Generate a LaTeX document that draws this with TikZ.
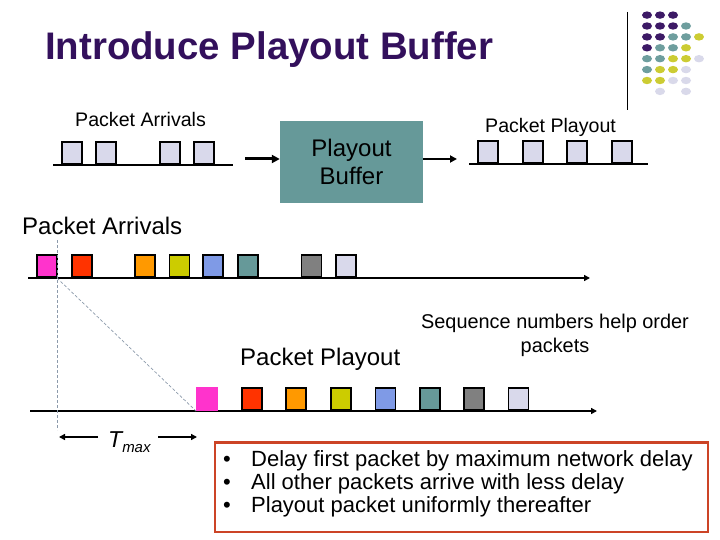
\documentclass[tikz,border=0pt]{standalone}
\usepackage{fontspec}
\setmainfont{Liberation Sans}
\usetikzlibrary{arrows.meta,shapes.geometric}
\definecolor{titlepurple}{HTML}{33105C}
\definecolor{dotP}{HTML}{3D1A66}
\definecolor{dotT}{HTML}{6E9E9E}
\definecolor{dotY}{HTML}{CCCC33}
\definecolor{dotL}{HTML}{D9D9EA}
\definecolor{cpink}{HTML}{FF33CC}
\definecolor{cred}{HTML}{FF3300}
\definecolor{corange}{HTML}{FF9900}
\definecolor{colive}{HTML}{CCCC00}
\definecolor{cblue}{HTML}{7F9AE6}
\definecolor{cteal}{HTML}{669999}
\definecolor{cgray}{HTML}{808080}
\definecolor{clav}{HTML}{D9D9EB}
\definecolor{boxred}{HTML}{CC4426}
\definecolor{dashc}{HTML}{8C9AAB}
\begin{document}
\begin{tikzpicture}[x=1pt,y=-1pt,
  pkt/.style={draw=black, line width=1.5pt, minimum width=20pt, minimum height=22pt, inner sep=0pt, anchor=south west},
  dot/.style={ellipse, minimum width=10pt, minimum height=7.4pt, inner sep=0pt},
  tline/.style={line width=2pt, black},
  fat/.style={line width=3pt, -{Triangle[length=8pt,width=8pt]}},
  tarrow/.style={line width=2pt, -{Triangle[length=6pt,width=6pt]}},
  guide/.style={dashc, line width=0.7pt, dash pattern=on 3pt off 2pt},
  lbl/.style={inner sep=0pt, anchor=base west}
]
\useasboundingbox (0,0) rectangle (720,540);

% title
\node[lbl, text=titlepurple, font=\fontsize{38.4}{40}\selectfont\bfseries] (title) at (45,60) {Introduce Playout Buffer};

% decoration
\draw[line width=1pt] (627,12) -- (627,110);
\foreach \c/\r/\col in {1/1/dotP,2/1/dotP,3/1/dotP,
  1/2/dotP,2/2/dotP,3/2/dotP,4/2/dotT,
  1/3/dotP,2/3/dotP,3/3/dotT,4/3/dotT,5/3/dotY,
  1/4/dotP,2/4/dotT,3/4/dotT,4/4/dotY,
  1/5/dotT,2/5/dotT,3/5/dotY,4/5/dotY,5/5/dotL,
  1/6/dotT,2/6/dotY,3/6/dotY,4/6/dotL,
  1/7/dotY,2/7/dotY,3/7/dotL,4/7/dotL,
  2/8/dotL,4/8/dotL}
  \node[dot, fill=\col] (d\c\r) at ({634+13*\c},{4.2+10.9*\r}) {};

% top row
\node[lbl, font=\fontsize{19.6}{22}\selectfont] (arrT) at (75,127) {Packet Arrivals};
\node[lbl, font=\fontsize{19.6}{22}\selectfont] (playT) at (485,133) {Packet Playout};
\coordinate (la1) at (53,165); \coordinate (la2) at (233,165);
\draw[tline] (la1) -- (la2);
\foreach \x/\i in {61/1,95/2,159/3,193/4}
  \node[pkt, fill=clav] (ta\i) at (\x,165) {};
\node[fill=cteal, minimum width=143pt, minimum height=82pt, inner sep=0pt, align=center,
  font=\fontsize{24}{28}\selectfont] (buf) at (351.5,162) {Playout\\Buffer};
\coordinate (inA) at (245,159);
\draw[fat] (inA) -- (buf.west |- inA);
\coordinate (outB) at (457,159);
\draw[line width=2.5pt, -{Triangle[length=7pt,width=7pt]}] (buf.east |- outB) -- (outB);
\coordinate (lp1) at (469,164); \coordinate (lp2) at (648,164);
\draw[tline] (lp1) -- (lp2);
\foreach \x/\i in {477/1,522/2,566/3,611/4}
  \node[pkt, fill=clav] (tp\i) at (\x,164) {};

% arrivals
\node[lbl, font=\fontsize{24}{28}\selectfont] (arrM) at (22,235) {Packet Arrivals};
\coordinate (a0) at (28,278); \coordinate (a1) at (590,278);
\draw[tarrow] (a0) -- (a1);
\foreach \x/\col/\i in {36/cpink/1,71/cred/2,134/corange/3,168.5/colive/4,202/cblue/5,237/cteal/6,300.5/cgray/7,335/clav/8}
  \node[pkt, fill=\col] (ar\i) at (\x,277.5) {};

% playout
\node[lbl, font=\fontsize{24}{28}\selectfont] (playM) at (240,365) {Packet Playout};
\node[lbl, align=center, font=\fontsize{19.9}{24}\selectfont, anchor=base] (seq) at (555,352) {Sequence numbers help order\\packets};
\coordinate (p0) at (30,411); \coordinate (p1) at (597,411);
\draw[tarrow] (p0) -- (p1);
\node[fill=cpink, minimum width=21.5pt, minimum height=24pt, inner sep=0pt, anchor=south west] (pl1) at (196,411) {};
\foreach \x/\col/\i in {241/cred/2,285/corange/3,330/colive/4,374.5/cblue/5,419/cteal/6,463/cgray/7,507.5/clav/8}
  \node[pkt, fill=\col] (pl\i) at (\x,410.5) {};

% guides
\coordinate (g0) at (57,240); \coordinate (g1) at (57,430);
\draw[guide] (g0) -- (g1);
\coordinate (g2) at (57,278);
\draw[guide] (g2) -- (pl1.south west);

% Tmax
\node[lbl, font=\fontsize{23}{26}\selectfont\itshape] (tmax) at (108,447) {T\raisebox{-5pt}{\fontsize{15}{16}\selectfont max}};
\coordinate (tl) at (59,437); \coordinate (tr) at (197,437);
\coordinate (tls) at (98,437); \coordinate (trs) at (158,437);
\draw[tarrow] (tls) -- (tl);
\draw[tarrow] (trs) -- (tr);

% bullet box
\draw[boxred, line width=2.5pt] (215,442.5) rectangle (708,532);
\foreach \y/\t/\i in {466.5/Delay first packet by maximum network delay/1,489.5/All other packets arrive with less delay/2,512.5/Playout packet uniformly thereafter/3}{
  \node[lbl, font=\fontsize{22}{24}\selectfont] (bl\i) at (251,\y) {\t};
  \node[lbl, font=\fontsize{22}{24}\selectfont] (bu\i) at (223,\y) {•};
}
\end{tikzpicture}
\end{document}
